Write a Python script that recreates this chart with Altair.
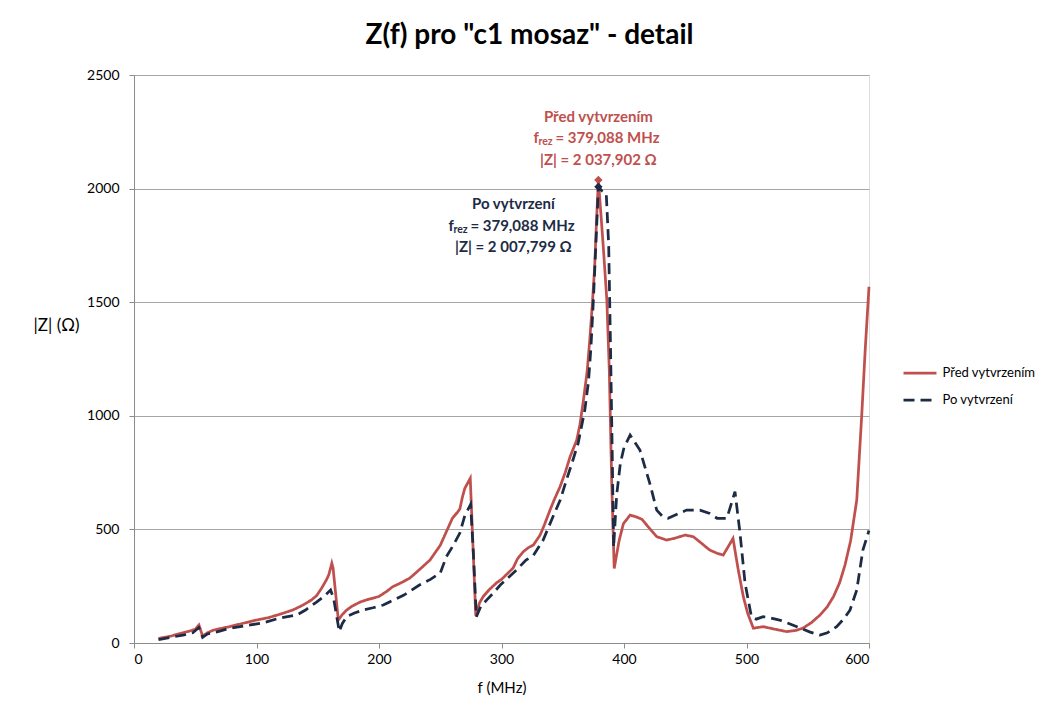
import altair as alt
import pandas as pd

FONT = "Lato"
TITLE = 'Z(f) pro "c1 mosaz" - detail'
X_TITLE = "f (MHz)"
Y_TITLE = "|Z| (Ω)"
SERIES = ["Před vytvrzením", "Po vytvrzení"]
COLORS = ["#C0504D", "#1d2b45"]
X_TICKS = [0, 100, 200, 300, 400, 500, 600]
Y_TICKS = [0, 500, 1000, 1500, 2000, 2500]

# Před vytvrzením (solid red)
f_pred = [20, 30, 37.5, 45, 50, 53, 56, 60, 65, 78, 90, 100, 110, 120, 130, 138, 145, 149, 153,
          157, 159, 161.5, 162.5, 166.8, 170, 173.6, 178, 184.5, 190, 195, 200, 206, 211, 218,
          225, 232, 241.6, 250, 255, 260, 264, 266, 268, 270, 274.5, 279, 282, 285, 290, 296,
          300, 309.5, 313, 317.8, 322, 326, 331.5, 335, 339.6, 343, 347.8, 352, 356, 361.4, 364,
          366.9, 370, 372, 374, 376, 377.5, 379.088, 381, 383, 386, 388, 390, 392, 396, 399.5,
          405, 410, 414.5, 420, 426.7, 434.8, 442, 449.8, 456.6, 463, 470, 476, 481, 489, 493,
          497.4, 501, 505.6, 513.7, 522, 532.8, 540, 546, 553, 560, 566, 571, 576, 580.4, 585,
          590, 594, 597, 600]
z_pred = [20, 30, 42, 52, 60, 79, 31, 45, 57, 72, 88, 101, 112, 128, 146, 167, 190, 208, 240,
          277, 300, 351, 330, 101, 125, 145, 162, 180, 190, 197, 205, 226, 247, 265,
          285, 318, 365, 430, 490, 550, 575, 590, 640, 680, 725, 120, 176, 204, 235, 265,
          280, 330, 370, 402, 420, 431, 475, 520, 585, 630, 688, 750, 820, 893, 960,
          1069, 1200, 1330, 1480, 1650, 1850, 2037.902, 1900, 1750, 1509, 1200, 700, 328, 450, 525,
          563, 555, 545, 510, 468, 453, 462, 475, 468, 440, 409, 395, 387, 460, 330,
          204, 130, 65, 72, 62, 50, 55, 65, 90, 123, 160, 204, 265, 343, 450,
          629, 996, 1300, 1568]

# Po vytvrzení (dashed navy)
f_po = [20, 30, 40, 48, 53, 56, 60, 70, 78, 90, 105.6, 119, 132.8, 140, 149, 155, 160.5, 163,
        167.6, 170, 173.6, 180, 187, 195, 203.5, 209, 220, 233, 242, 250, 255, 260, 266, 270,
        274.8, 277, 279.5, 283, 288, 293, 299, 305, 312, 320, 326, 334, 342, 348, 353, 358,
        362.6, 368, 371, 373, 375, 377, 379.088, 382, 385.5, 387.5, 389, 390.5, 391.5, 394, 397,
        400, 405, 413, 421, 426.7, 431, 436, 444, 451, 462, 470, 476, 484, 490.6, 494.7, 498.8,
        504, 508, 513.6, 520, 527, 535, 543.7, 552, 560, 566, 573.6, 580, 584.5, 590, 595, 600]
z_po = [15, 25, 35, 45, 68, 25, 40, 52, 65, 75, 89, 110, 123, 145, 180, 205, 233, 195,
        50, 85, 116, 132, 145, 155, 167, 182, 210, 255, 280, 308, 380, 424, 484, 560,
        610, 400, 116, 160, 190, 218, 255, 285, 320, 365, 385, 453, 556, 630, 717, 800,
        880, 1025, 1150, 1300, 1509, 1750, 2007.799, 1990, 1980, 1750, 1300, 800, 420, 650, 790,
        860, 915, 849, 704, 585, 560, 549, 568, 585, 585, 570, 549, 549, 666, 484, 264,
        116, 105, 116, 110, 101, 85, 66, 48, 35, 45, 72, 110, 145, 233, 409, 495]

peak_f = [379.088, 379.088]
peak_z = [2037.902, 2007.799]

ANN_PRED = ["Před vytvrzením", "f", "rez", "= 379,088 MHz", "|Z| = 2 037,902 Ω"]
ANN_PO = ["Po vytvrzení", "f", "rez", "= 379,088 MHz", "|Z| = 2 007,799 Ω"]

df = pd.concat([
    pd.DataFrame({"f": f_pred, "z": z_pred, "series": SERIES[0]}),
    pd.DataFrame({"f": f_po, "z": z_po, "series": SERIES[1]}),
], ignore_index=True)
df_peak = pd.DataFrame({"f": peak_f, "z": peak_z, "series": SERIES})

color_scale = alt.Scale(domain=SERIES, range=COLORS)
dash_scale = alt.Scale(domain=SERIES, range=[[1, 0], [11, 6]])

legend = alt.Legend(
    title=None, orient="none", legendX=776, legendY=288, padding=0,
    symbolType="M-2,0H2", symbolSize=272, symbolStrokeWidth=2.75,
    labelFont=FONT, labelFontSize=13, labelColor="#000000", labelOffset=12.5,
    rowPadding=10,
)

x_enc = alt.X("f:Q", scale=alt.Scale(domain=[0, 600], nice=False),
              axis=alt.Axis(values=X_TICKS, grid=False, title=X_TITLE, tickSize=5,
                            labelPadding=4, labelFont=FONT, labelFontSize=14,
                            labelColor="#000000", titleFont=FONT, titleFontSize=15,
                            titleFontWeight="normal", titleColor="#000000", titlePadding=14,
                            domainColor="#8c8c8c", tickColor="#8c8c8c"))
y_enc = alt.Y("z:Q", scale=alt.Scale(domain=[0, 2500], nice=False),
              axis=alt.Axis(values=Y_TICKS, format="d", grid=True, gridColor="#a6a6a6",
                            title=Y_TITLE, titleAngle=0, titleX=-78, titleY=250,
                            titleAlign="center", titleBaseline="middle", tickSize=5,
                            labelPadding=10, labelFont=FONT, labelFontSize=14,
                            labelColor="#000000", titleFont=FONT, titleFontSize=17,
                            titleFontWeight="normal", titleColor="#000000",
                            domainColor="#8c8c8c", tickColor="#8c8c8c"))

lines = alt.Chart(df).mark_line(strokeWidth=2.75).encode(
    x=x_enc, y=y_enc,
    color=alt.Color("series:N", scale=color_scale, legend=legend, sort=SERIES),
    strokeDash=alt.StrokeDash("series:N", scale=dash_scale, legend=legend, sort=SERIES),
)

points = alt.Chart(df_peak).mark_point(shape="diamond", filled=True, size=70, opacity=1).encode(
    x="f:Q", y="z:Q",
    color=alt.Color("series:N", scale=color_scale, legend=None),
)


def txt(i, text, dx, dy, size=15, align="center"):
    return alt.Chart(df_peak.iloc[[i]]).mark_text(
        text=text, dx=dx, dy=dy, fontSize=size, align=align, baseline="middle",
        font=FONT, fontWeight="bold", color=COLORS[i],
    ).encode(x="f:Q", y="z:Q")


ann = []
for i, (texts, cx, d1, d2, d3) in enumerate([(ANN_PRED, 0, -63, -42, -20), (ANN_PO, -85, 17, 39, 60)]):
    ann.append(txt(i, texts[0], cx, d1))
    ann.append(txt(i, texts[1], cx - 65, d2, align="left"))
    ann.append(txt(i, texts[2], cx - 60, d2 + 4, size=10.5, align="left"))
    ann.append(txt(i, texts[3], cx - 43, d2, align="left"))
    ann.append(txt(i, texts[4], cx, d3))

chart = alt.layer(lines, points, *ann).properties(
    width=735, height=568,
    autosize=alt.AutoSizeParams(type="none"),
    padding={"left": 134, "top": 75, "right": 187, "bottom": 66},
    title=alt.TitleParams(TITLE, font=FONT, fontSize=28, fontWeight="bold", color="#000000",
                          anchor="middle", dx=28, offset=18),
).configure_view(stroke=None).configure(background="white")

chart.save("out.html", embed_options={"renderer": "svg", "actions": False})
